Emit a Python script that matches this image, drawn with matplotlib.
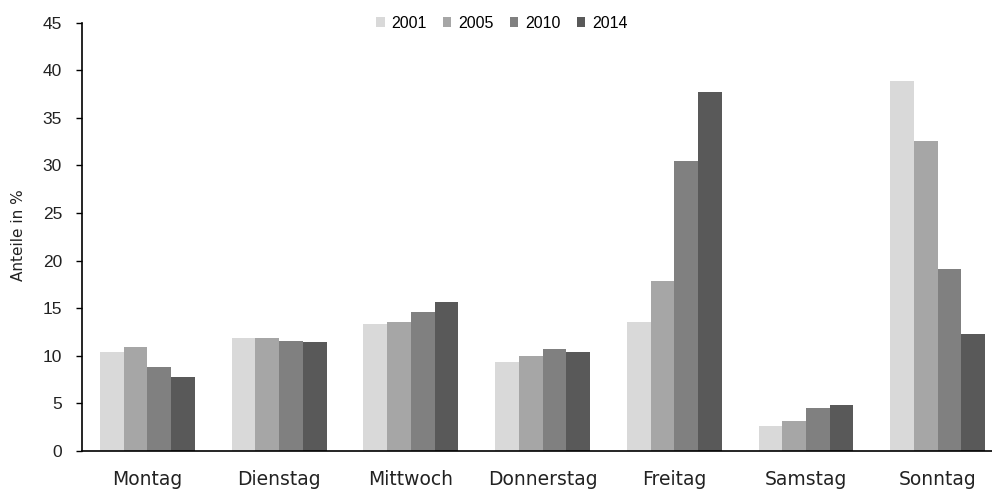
import matplotlib
matplotlib.use('Agg')
import matplotlib.pyplot as plt
import numpy as np

# Wochentage und Anteile in % je Erhebungsjahr
days = ['Montag', 'Dienstag', 'Mittwoch', 'Donnerstag', 'Freitag', 'Samstag', 'Sonntag']
years = ['2001', '2005', '2010', '2014']
v2001 = [10.4, 11.9, 13.3, 9.3, 13.6, 2.6, 38.9]
v2005 = [10.9, 11.9, 13.6, 10.0, 17.9, 3.2, 32.6]
v2010 = [8.8, 11.6, 14.6, 10.7, 30.5, 4.5, 19.1]
v2014 = [7.8, 11.4, 15.7, 10.4, 37.7, 4.8, 12.3]
colors = ['#d9d9d9', '#a6a6a6', '#808080', '#595959']

series = [v2001, v2005, v2010, v2014]

plt.rcParams['font.family'] = ['DejaVu Sans']
num_font = ['Liberation Sans', 'DejaVu Sans']

fig = plt.figure(figsize=(9.92, 4.91), dpi=100)
ax = fig.add_axes([0.0822, 0.0815, 0.9295, 0.8723])

x = np.arange(len(days))
width = 0.18
for i, (vals, col, yr) in enumerate(zip(series, colors, years)):
	ax.bar(x + (i - 1.5) * width, vals, width, color=col, label=yr, zorder=2)

ax.set_xlim(-0.5, len(days) - 0.5)
ax.set_ylim(0, 45)
ax.set_yticks(range(0, 46, 5))
ax.set_xticks(x)
ax.set_xticklabels(days, fontsize=13.5, color='#222222')
ax.tick_params(axis='x', length=0, pad=14)
ax.tick_params(axis='y', length=4, width=1, pad=10, labelsize=12.5,
	labelcolor='#222222', labelfontfamily=num_font)

ax.spines['top'].set_visible(False)
ax.spines['right'].set_visible(False)
ax.spines['left'].set_linewidth(1.2)
ax.spines['bottom'].set_linewidth(1.2)

fig.text(0.019, 0.521, 'Anteile in %', rotation=90, ha='center', va='center',
	fontsize=11, color='#222222')

fig.legend(loc='center', bbox_to_anchor=(0.506, 0.953), ncol=4, frameon=False,
	prop={'family': num_font, 'size': 11.5},
	handlelength=0.52, handleheight=0.52, handletextpad=0.45,
	columnspacing=1.0)

fig.savefig('out.png', dpi=100)
